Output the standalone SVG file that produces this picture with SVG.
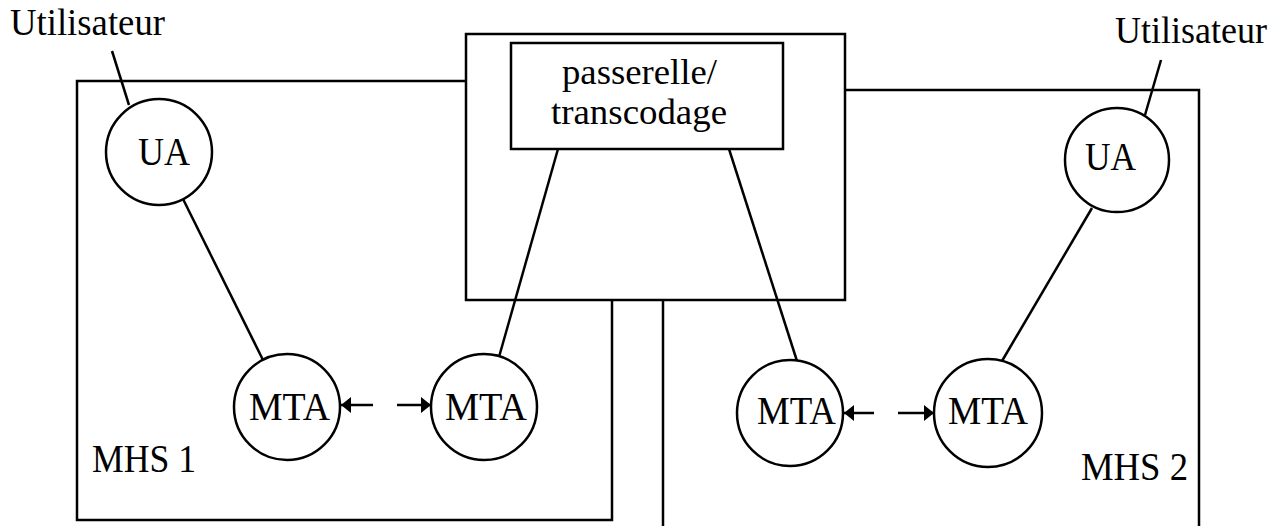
<svg xmlns="http://www.w3.org/2000/svg" width="1283" height="526" viewBox="0 0 1283 526">
  <style>
    .ln { fill: none; stroke: #000; stroke-width: 2.5; }
    .nd { fill: #fff; stroke: #000; stroke-width: 2.5; }
    .tx { font-family: "Liberation Serif", "Times New Roman", serif; font-size: 40px; fill: #000; }
    .usr { font-size: 38px; }
    .gw { font-size: 35px; }
  </style>
  <defs>
    <marker id="head" viewBox="0 0 10 16" refX="10" refY="8" markerWidth="10" markerHeight="16" markerUnits="userSpaceOnUse" orient="auto">
      <path d="M0,0 L10,8 L0,16 Z" fill="#000"/>
    </marker>
  </defs>
  <rect width="1283" height="526" fill="#fff"/>

  <!-- domain outlines -->
  <g id="mhs1">
    <polyline class="ln" points="466,81 77,81 77,520 612,520 612,300"/>
    <text class="tx" x="92" y="472" textLength="104" lengthAdjust="spacingAndGlyphs">MHS 1</text>
  </g>
  <g id="mhs2">
    <polyline class="ln" points="845,90 1199,90 1199,526"/>
    <line class="ln" x1="663" y1="300" x2="663" y2="526"/>
    <text class="tx" x="1081" y="480" textLength="107" lengthAdjust="spacingAndGlyphs">MHS 2</text>
  </g>
  <g id="gateway">
    <rect class="ln" x="466" y="34" width="379" height="266"/>
    <rect class="ln" x="511" y="43" width="272" height="106"/>
    <text class="tx gw" x="562" y="84" textLength="155" lengthAdjust="spacingAndGlyphs">passerelle/</text>
    <text class="tx gw" x="551" y="124" textLength="176" lengthAdjust="spacingAndGlyphs">transcodage</text>
  </g>

  <!-- user labels -->
  <g id="user1"><text class="tx usr" x="10" y="35" textLength="155" lengthAdjust="spacingAndGlyphs">Utilisateur</text></g>
  <g id="user2"><text class="tx usr" x="1115" y="43" textLength="152" lengthAdjust="spacingAndGlyphs">Utilisateur</text></g>

  <!-- connectors -->
  <g id="connectors">
    <line class="ln" x1="112" y1="51" x2="129" y2="105"/>
    <line class="ln" x1="1161" y1="60" x2="1145" y2="115"/>
    <line class="ln" x1="183" y1="199" x2="263" y2="360"/>
    <line class="ln" x1="558" y1="149" x2="499" y2="357"/>
    <line class="ln" x1="729" y1="149" x2="797" y2="361"/>
    <line class="ln" x1="1092" y1="208" x2="1002" y2="361"/>
    <line class="ln" x1="373" y1="405" x2="341" y2="405" marker-end="url(#head)"/>
    <line class="ln" x1="397" y1="405" x2="431" y2="405" marker-end="url(#head)"/>
    <line class="ln" x1="874" y1="413" x2="844" y2="413" marker-end="url(#head)"/>
    <line class="ln" x1="898" y1="413" x2="934" y2="413" marker-end="url(#head)"/>
  </g>

  <!-- agents -->
  <g id="ua1">
    <circle class="nd" cx="159" cy="152" r="53"/>
    <text class="tx" x="138" y="165" textLength="52" lengthAdjust="spacingAndGlyphs">UA</text>
  </g>
  <g id="ua2">
    <circle class="nd" cx="1117" cy="160" r="52"/>
    <text class="tx" x="1085" y="170" textLength="51" lengthAdjust="spacingAndGlyphs">UA</text>
  </g>
  <g id="mta1a">
    <circle class="nd" cx="287" cy="407" r="53"/>
    <text class="tx" x="249" y="420" textLength="81" lengthAdjust="spacingAndGlyphs">MTA</text>
  </g>
  <g id="mta1b">
    <circle class="nd" cx="484" cy="407" r="53"/>
    <text class="tx" x="445" y="420" textLength="82" lengthAdjust="spacingAndGlyphs">MTA</text>
  </g>
  <g id="mta2a">
    <circle class="nd" cx="790" cy="413" r="53"/>
    <text class="tx" x="757" y="424" textLength="79" lengthAdjust="spacingAndGlyphs">MTA</text>
  </g>
  <g id="mta2b">
    <circle class="nd" cx="988" cy="413" r="54"/>
    <text class="tx" x="948" y="424" textLength="80" lengthAdjust="spacingAndGlyphs">MTA</text>
  </g>
</svg>
